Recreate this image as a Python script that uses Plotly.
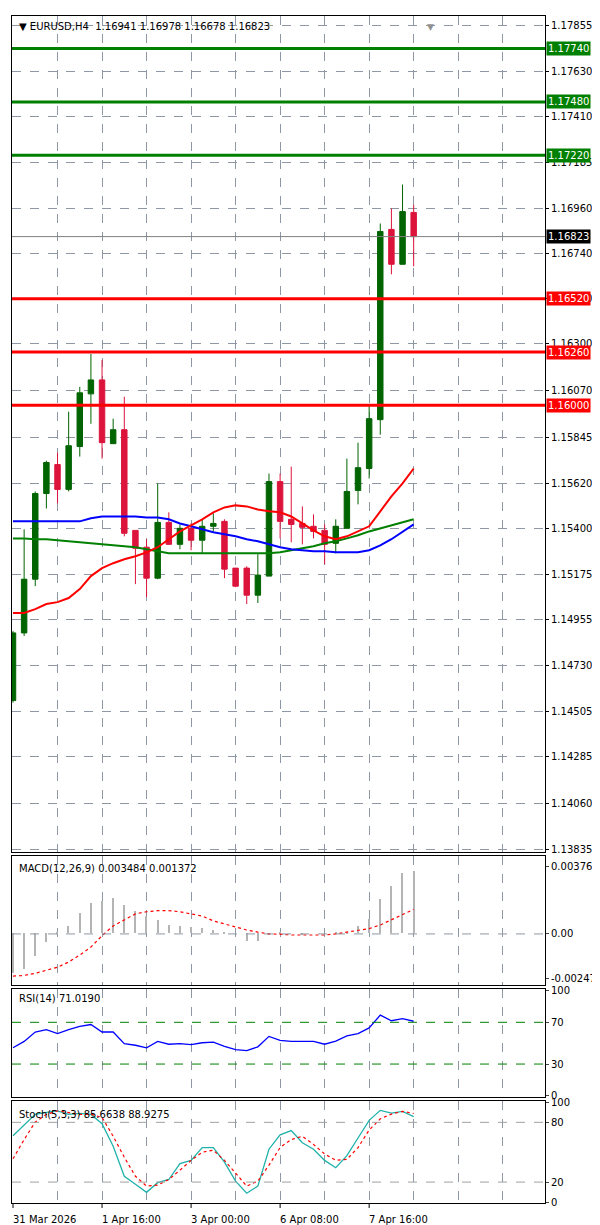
import plotly.graph_objects as go

# ---------------- data ----------------
bars = list(range(37))
opens  = [1.14560,1.14890,1.15152,1.15570,1.15711,1.15590,1.15799,1.16056,1.16124,1.15813,1.15881,1.15390,1.15308,1.15157,1.15429,1.15322,1.15400,1.15342,1.15410,1.15434,1.15206,1.15206,1.15074,1.15167,1.15628,1.15444,1.15424,1.15410,1.15390,1.15327,1.15400,1.15585,1.15692,1.15930,1.16858,1.16688,1.16941]
highs  = [1.14899,1.15395,1.15580,1.15730,1.15769,1.15969,1.16090,1.16251,1.16221,1.15935,1.16042,1.15390,1.15347,1.15619,1.15478,1.15419,1.15424,1.15444,1.15473,1.15444,1.15206,1.15215,1.15274,1.15667,1.15667,1.15701,1.15507,1.15468,1.15419,1.15444,1.15740,1.15818,1.16003,1.16887,1.16960,1.17077,1.16978]
lows   = [1.14550,1.14875,1.15118,1.15497,1.15522,1.15580,1.15750,1.15910,1.15740,1.15813,1.15361,1.15128,1.15065,1.15152,1.15320,1.15298,1.15293,1.15278,1.15385,1.15157,1.15113,1.15031,1.15036,1.15167,1.15351,1.15332,1.15322,1.15351,1.15225,1.15278,1.15400,1.15517,1.15643,1.15857,1.16639,1.16688,1.16678]
closes = [1.14890,1.15152,1.15570,1.15721,1.15590,1.15803,1.16061,1.16124,1.15818,1.15881,1.15376,1.15303,1.15157,1.15429,1.15322,1.15400,1.15342,1.15410,1.15424,1.15201,1.15118,1.15074,1.15172,1.15628,1.15434,1.15419,1.15405,1.15385,1.15322,1.15410,1.15580,1.15696,1.15935,1.16848,1.16688,1.16945,1.16823]

ma_red   = [1.14987,1.14987,1.15006,1.15031,1.15040,1.15060,1.15104,1.15167,1.15206,1.15230,1.15249,1.15264,1.15283,1.15308,1.15347,1.15385,1.15415,1.15444,1.15478,1.15502,1.15512,1.15507,1.15492,1.15483,1.15478,1.15458,1.15424,1.15390,1.15361,1.15347,1.15361,1.15385,1.15410,1.15483,1.15556,1.15619,1.15692]
ma_blue  = [1.15434]*7 + [1.15449,1.15458,1.15458,1.15458,1.15458,1.15453,1.15453,1.15444,1.15424,1.15410,1.15395,1.15381,1.15371,1.15361,1.15347,1.15337,1.15322,1.15308,1.15298,1.15293,1.15288,1.15288,1.15283,1.15283,1.15283,1.15293,1.15317,1.15347,1.15381,1.15419]
ma_green = [1.15351,1.15351,1.15347,1.15347,1.15342,1.15337,1.15332,1.15327,1.15322,1.15317,1.15313,1.15308,1.15298,1.15288,1.15278,1.15278,1.15278,1.15278,1.15278,1.15278,1.15278,1.15278,1.15278,1.15278,1.15283,1.15293,1.15303,1.15313,1.15327,1.15337,1.15351,1.15366,1.15385,1.15400,1.15415,1.15429,1.15444]

green_levels = [1.17740, 1.17480, 1.17220]
red_levels   = [1.16520, 1.16260, 1.16000]
last_price = 1.16823

price_ticks = [1.17855,1.17630,1.17410,1.17185,1.16960,1.16740,1.16520,1.16300,1.16070,1.15845,1.15620,1.15400,1.15175,1.14955,1.14730,1.14505,1.14285,1.14060,1.13835]

macd_hist = [-0.0022,-0.00197,-0.00124,-0.0005,0.00005,0.0004,0.00112,0.00169,0.0018,0.00197,0.00157,0.00124,0.00096,0.00073,0.0005,0.0004,0.00034,0.0003,0.0002,0.0001,0.0,-0.0004,-0.0004,-0.0001,0.00005,0.0,-0.00005,0.0,0.0,0.00003,0.0001,0.0004,0.00079,0.0019,0.00264,0.00337,0.00348]
macd_sig  = [-0.00236,-0.00232,-0.0022,-0.00205,-0.00186,-0.00157,-0.00118,-0.00073,-0.0001,0.00045,0.00079,0.00112,0.00124,0.0013,0.0013,0.00124,0.00112,0.001,0.00073,0.00056,0.0004,0.00022,0.0001,0.0,-0.00001,-0.00006,-0.00006,-0.00008,-0.00006,0.0,0.0001,0.00016,0.0003,0.0005,0.00079,0.00112,0.00137]

rsi = [45.6,51.7,60.7,63.0,59.2,63.0,66.0,67.9,60.7,60.7,49.5,48.0,45.6,51.7,49.0,49.5,48.6,50.4,51.0,47.0,43.8,42.9,46.5,56.5,52.6,51.7,51.7,51.7,49.0,52.0,57.0,59.2,64.6,76.9,71.5,73.6,71.0]

stoch_k = [66.5,77,88,90,91.5,88,89,88,78.7,56,25.8,17.8,9.7,19.4,22.6,38.6,41.8,54.7,54.7,40,21,8.8,16,53,67.5,71.7,59.5,53,41.8,34.4,46.6,64.3,82,92,89.3,91,85.7]
stoch_d = [43.4,62.7,80.3,88,91.5,90,88,88,85,66,45,25.8,16,17,22.6,32,41.8,50,52,41.8,29,16,21,37,54.7,62.7,66,57.9,48.2,41.8,42.8,54.7,72.3,83.5,88.3,91,88.9]

date_pos = [0, 8, 16, 24, 32]
date_labels = ["31 Mar 2026", "1 Apr 16:00", "3 Apr 00:00", "6 Apr 08:00", "7 Apr 16:00"]
grid_x = list(range(4, 48, 4))

# ---------------- figure ----------------
FONT = "DejaVu Sans"
H = 1225; T = 3; B = 30; PH = H - T - B
def py(Y):
    return 1 - (Y - T) / PH

GRID = "#8E98A4"
fig = go.Figure()

fig.add_trace(go.Candlestick(x=bars, open=opens, high=highs, low=lows, close=closes,
    increasing=dict(line=dict(color="#006400", width=1), fillcolor="#006400"),
    decreasing=dict(line=dict(color="#DC143C", width=1), fillcolor="#DC143C"),
    whiskerwidth=0, showlegend=False, xaxis="x", yaxis="y"))
for ma, c in [(ma_green, "#008000"), (ma_blue, "#0000FF"), (ma_red, "#FF0000")]:
    fig.add_trace(go.Scatter(x=bars, y=ma, mode="lines", line=dict(color=c, width=2),
                             showlegend=False, xaxis="x", yaxis="y"))

fig.add_trace(go.Bar(x=bars, y=macd_hist, width=0.12, marker=dict(color="#B4B4B4", line=dict(width=0)),
                     showlegend=False, xaxis="x2", yaxis="y2"))
fig.add_trace(go.Scatter(x=bars, y=macd_sig, mode="lines", line=dict(color="#FF0000", width=1.2, dash="dot"),
                         showlegend=False, xaxis="x2", yaxis="y2"))
fig.add_trace(go.Scatter(x=bars, y=rsi, mode="lines", line=dict(color="#0000FF", width=1.3),
                         showlegend=False, xaxis="x3", yaxis="y3"))
fig.add_trace(go.Scatter(x=bars, y=stoch_k, mode="lines", line=dict(color="#20B2AA", width=1.3),
                         showlegend=False, xaxis="x4", yaxis="y4"))
fig.add_trace(go.Scatter(x=bars, y=stoch_d, mode="lines", line=dict(color="#FF0000", width=1.2, dash="dot"),
                         showlegend=False, xaxis="x4", yaxis="y4"))

xr = [-0.09, 47.8]
def xax(anchor):
    return dict(range=xr, anchor=anchor, tickvals=grid_x, showticklabels=False, showgrid=True,
                gridcolor=GRID, griddash="dash", gridwidth=1, zeroline=False, showline=True,
                linecolor="black", linewidth=1, mirror=True, rangeslider=dict(visible=False), ticks="")
tickfont = dict(family=FONT, size=10, color="black")
fig.update_layout(
    width=600, height=H, margin=dict(l=3, r=63, t=T, b=B),
    paper_bgcolor="white", plot_bgcolor="white", bargap=0,
    xaxis=xax("y"), xaxis2=xax("y2"), xaxis3=xax("y3"), xaxis4=xax("y4"),
    yaxis=dict(domain=[py(843), py(3)], range=[1.13819, 1.17899], side="right", tickvals=price_ticks,
               ticktext=[f"{v:.5f}" for v in price_ticks], showgrid=True, gridcolor=GRID, griddash="dash",
               zeroline=False, showline=True, linecolor="black", mirror=True, tickfont=tickfont,
               ticks="outside", ticklen=3, tickcolor="black", anchor="x"),
    yaxis2=dict(domain=[py(976), py(847)], range=[-0.00285, 0.00433], side="right",
                tickvals=[0.003768, 0.0, -0.002476], ticktext=["0.003768", "0.00", "-0.002476"],
                showgrid=False, zeroline=False, showline=True, linecolor="black", mirror=True,
                tickfont=tickfont, ticks="outside", ticklen=3, anchor="x2"),
    yaxis3=dict(domain=[py(1089), py(980)], range=[-2, 102], side="right", tickvals=[0, 30, 70, 100],
                showgrid=False, zeroline=False, showline=True, linecolor="black", mirror=True,
                tickfont=tickfont, ticks="outside", ticklen=3, anchor="x3"),
    yaxis4=dict(domain=[py(1195), py(1093)], range=[-1, 101], side="right", tickvals=[0, 20, 80, 100],
                showgrid=False, zeroline=False, showline=True, linecolor="black", mirror=True,
                tickfont=tickfont, ticks="outside", ticklen=3, anchor="x4"),
)

# pane level lines
fig.add_shape(type="line", xref="x2 domain", yref="y2", x0=0, x1=1, y0=0, y1=0,
              line=dict(color=GRID, width=1, dash="dash"))
for lv in [70, 30]:
    fig.add_shape(type="line", xref="x3 domain", yref="y3", x0=0, x1=1, y0=lv, y1=lv,
                  line=dict(color="#008000", width=1, dash="dash"))
for lv in [80, 20]:
    fig.add_shape(type="line", xref="x4 domain", yref="y4", x0=0, x1=1, y0=lv, y1=lv,
                  line=dict(color="#A0A0A0", width=1, dash="dash"))

# price level lines and labels
fig.add_shape(type="line", xref="x domain", yref="y", x0=0, x1=1, y0=last_price, y1=last_price,
              line=dict(color="#808080", width=1))
for levels, c in [(green_levels, "#008000"), (red_levels, "#FF0000")]:
    for lv in levels:
        fig.add_shape(type="line", xref="x domain", yref="y", x0=0, x1=1, y0=lv, y1=lv,
                      line=dict(color=c, width=3))
        fig.add_annotation(xref="x domain", yref="y", x=1, y=lv, xanchor="left", xshift=1,
                           text=f"{lv:.5f}", showarrow=False, bgcolor=c, borderpad=1,
                           font=dict(family=FONT, size=10, color="white"))
fig.add_annotation(xref="x domain", yref="y", x=1, y=last_price, xanchor="left", xshift=1,
                   text=f"{last_price:.5f}", showarrow=False, bgcolor="black", borderpad=1,
                   font=dict(family=FONT, size=10, color="white"))

# x labels
for p, lab in zip(date_pos, date_labels):
    fig.add_annotation(xref="x4", yref="paper", x=p, y=py(1212), xanchor="left", xshift=-2,
                       yanchor="middle", text=lab, showarrow=False,
                       font=dict(family=FONT, size=10, color="black"))
    fig.add_shape(type="line", xref="x4", yref="paper", x0=p, x1=p, y0=py(1195), y1=py(1200),
                  line=dict(color="black", width=1))

# titles
def title(text, Y):
    fig.add_annotation(xref="paper", yref="paper", x=0, y=py(Y), xanchor="left", xshift=5,
                       yanchor="middle", text=text, showarrow=False,
                       font=dict(family=FONT, size=10, color="black"))
title("▼ EURUSD,H4  1.16941 1.16978 1.16678 1.16823", 14)
title("MACD(12,26,9) 0.003484 0.001372", 859)
title("RSI(14) 71.0190", 990)
title("Stoch(5,3,3) 85.6638 88.9275", 1106)
fig.add_annotation(xref="paper", yref="paper", x=0.795, y=py(7), text="▼", showarrow=False,
                   font=dict(family=FONT, size=9, color="#909090"))

fig.write_html("out.html")
